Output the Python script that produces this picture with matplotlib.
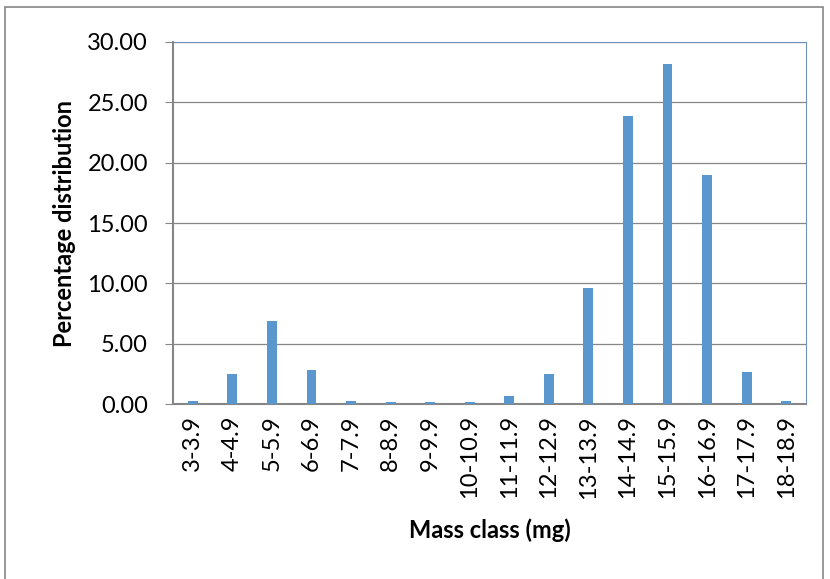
import matplotlib.pyplot as plt
import matplotlib.patches as mpatches

classes = ['3-3.9', '4-4.9', '5-5.9', '6-6.9', '7-7.9', '8-8.9', '9-9.9', '10-10.9',
           '11-11.9', '12-12.9', '13-13.9', '14-14.9', '15-15.9', '16-16.9', '17-17.9', '18-18.9']
percent = [0.28, 2.52, 6.85, 2.78, 0.28, 0.13, 0.18, 0.13,
           0.65, 2.50, 9.60, 23.90, 28.15, 19.00, 2.65, 0.28]

plt.rcParams['font.family'] = ['Lato', 'DejaVu Sans']

fig = plt.figure(figsize=(8.3, 5.79), dpi=100)
ax = fig.add_axes([0.2084, 0.3022, 0.7627, 0.6253])

x = range(len(classes))
ax.bar(x, percent, width=0.25, color='#5b97cf', zorder=3)

ax.set_xlim(-0.5, len(classes) - 0.5)
ax.set_ylim(0, 30)
ax.set_yticks([0, 5, 10, 15, 20, 25, 30])
ax.set_yticklabels([f'{v:.2f}' for v in [0, 5, 10, 15, 20, 25, 30]], fontsize=17)
ax.set_xticks(list(x))
ax.set_xticklabels(classes, rotation=90, fontsize=17)
ax.tick_params(axis='x', length=0, pad=8)
ax.tick_params(axis='y', length=6, color='#868686', pad=12)

ax.grid(axis='y', color='#868686', linewidth=0.9, zorder=0)
for side in ['top', 'right']:
    ax.spines[side].set_color('#6d93c0')
for side in ['left', 'bottom']:
    ax.spines[side].set_color('#868686')
    ax.spines[side].set_linewidth(1.5)

ax.set_xlabel('Mass class (mg)', fontsize=17, fontweight='bold', labelpad=14)
ax.set_ylabel('Percentage distribution', fontsize=17, fontweight='bold', labelpad=8)

# outer chart border
fig.patches.append(mpatches.Rectangle((0.006, -0.01), 0.985, 0.998, transform=fig.transFigure,
                                      fill=False, edgecolor='#868686', linewidth=1.2))

fig.savefig('out.png', dpi=100)
